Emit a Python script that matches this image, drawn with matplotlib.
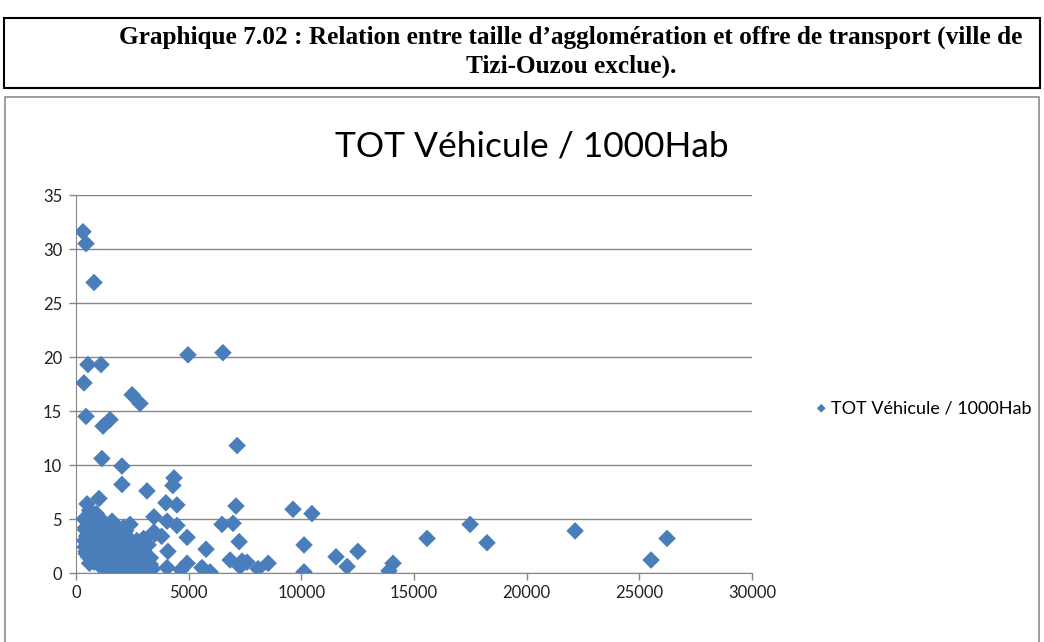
import matplotlib.pyplot as plt
from matplotlib.patches import Rectangle

# Population of the agglomeration vs. total vehicles per 1000 inhabitants
population = [
    311, 444, 800, 530, 1110, 4970, 6520, 355, 444, 2490, 2840, 1200, 1510,
    1150, 2040, 7150, 2040, 3150, 4350, 4300, 490, 1020, 3990, 4480, 7100,
    3460, 4040, 4480, 6480, 6970, 4930, 7240, 4080, 5770, 4930, 4660, 4040,
    3280, 5590, 5950, 6840, 7370, 7590, 7280, 8080, 8530, 9630, 10470, 10120,
    10120, 11540, 12030, 12510, 13890, 14070, 15580, 17490, 18240, 22150,
    25520, 26230, 3800, 3460,
    # dense group of small agglomerations
    380, 420, 400, 420, 360, 450, 500, 550, 600, 650, 700, 800, 800, 900,
    1000, 1000, 1100, 1200, 1200, 1300, 1400, 1400, 1500, 1600, 1700, 1700,
    1800, 1900, 2000, 2000, 2100, 2200, 2300, 2300, 2400, 2500, 2500, 2600,
    2700, 2800, 2800, 2900, 3000, 3000, 3100, 3200, 3300, 3400, 3500,
    450, 600, 900, 1300, 1600, 2100, 2600, 3000, 700, 1100, 1800, 2200,
    500, 1500, 2400, 3300, 950, 1250, 1900, 2700,
    480, 650, 850, 1050, 1350, 1550, 1750, 1950, 2150, 2350, 2550, 2750,
    750, 1150, 1450, 1850, 2250, 2650, 3050, 3150, 1650, 2050, 1000, 1400,
]
vehicles_per_1000 = [
    31.6, 30.5, 26.9, 19.3, 19.3, 20.2, 20.4, 17.6, 14.5, 16.5, 15.7, 13.6,
    14.2, 10.6, 9.9, 11.8, 8.2, 7.6, 8.8, 8.1, 6.4, 6.9, 6.5, 6.3, 6.2, 5.2,
    4.8, 4.4, 4.5, 4.6, 3.3, 2.9, 2.0, 2.2, 0.9, 0.3, 0.5, 0.3, 0.5, 0.1,
    1.2, 1.1, 1.0, 0.6, 0.4, 0.9, 5.9, 5.5, 2.6, 0.1, 1.5, 0.6, 2.0, 0.2,
    0.9, 3.2, 4.5, 2.8, 3.9, 1.2, 3.2, 3.4, 3.8,
    3.0, 4.2, 2.4, 4.0, 5.0, 2.0, 3.5, 1.5, 5.8, 3.0, 4.8, 1.0, 2.8, 5.5,
    0.8, 3.8, 5.0, 2.2, 1.0, 4.5, 0.5, 3.0, 1.8, 4.8, 0.4, 2.5, 3.8, 1.2,
    0.2, 2.8, 4.2, 1.8, 0.6, 3.3, 4.5, 2.2, 0.3, 1.2, 3.0, 0.5, 2.0, 1.5,
    0.2, 3.2, 0.8, 2.6, 1.4, 0.4, 3.6,
    1.8, 0.9, 1.8, 0.9, 2.0, 1.0, 2.4, 1.6, 3.6, 2.6, 0.6, 3.9,
    2.6, 3.4, 1.6, 0.8, 4.4, 3.9, 3.2, 1.8,
    3.4, 4.4, 1.4, 2.0, 3.4, 0.7, 1.0, 4.0, 3.0, 1.5, 1.6, 2.4,
    1.2, 0.6, 2.2, 2.1, 2.6, 0.8, 1.8, 1.1, 0.8, 0.6, 2.8, 4.0,
]

series_name = 'TOT Véhicule / 1000Hab'
x_ticks = [0, 5000, 10000, 15000, 20000, 25000, 30000]
y_ticks = [0, 5, 10, 15, 20, 25, 30, 35]

W, H = 1044, 642
fig = plt.figure(figsize=(W / 100, H / 100), dpi=100)


def fx(px):
    return px / W


def fy(py):
    return 1 - py / H


# caption box
fig.add_artist(Rectangle((fx(4), fy(88)), fx(1036), 70 / H, transform=fig.transFigure,
                         fill=False, edgecolor='black', linewidth=1.5))
fig.text(fx(571), fy(37), "Graphique 7.02 : Relation entre taille d\u2019agglomération et offre de transport (ville de",
         ha='center', va='center', family='Liberation Serif', weight='bold', fontsize=18.2)
fig.text(fx(571), fy(66), "Tizi-Ouzou exclue).",
         ha='center', va='center', family='Liberation Serif', weight='bold', fontsize=18.2)

# chart area border
fig.add_artist(Rectangle((fx(5), fy(660)), fx(1034), 563 / H, transform=fig.transFigure,
                         fill=False, edgecolor='#8c8c8c', linewidth=1.2))

fig.text(fx(532), fy(147), series_name, ha='center', va='center',
         family='Lato', fontsize=25.5, color='black')

ax = fig.add_axes([fx(76), fy(573), fx(676), 378 / H])
ax.scatter(population, vehicles_per_1000, marker='D', s=80, color='#4A7EBB',
           edgecolors='none', zorder=3, label=series_name)

ax.set_xlim(0, 30000)
ax.set_ylim(0, 35)
ax.set_xticks(x_ticks)
ax.set_yticks(y_ticks)
ax.grid(axis='y', color='#868686', linewidth=1)
ax.set_axisbelow(True)
for side in ['top', 'right']:
    ax.spines[side].set_visible(False)
for side in ['left', 'bottom']:
    ax.spines[side].set_color('#868686')
ax.tick_params(axis='both', colors='#868686', labelcolor='#222222', labelsize=12,
               length=5, width=1)
ax.tick_params(axis='y', pad=5)
for lbl in ax.get_xticklabels() + ax.get_yticklabels():
    lbl.set_family('Lato')

leg = ax.legend(loc='center left', bbox_to_anchor=(fx(796), fy(408)),
                bbox_transform=fig.transFigure, frameon=False, markerscale=0.5,
                handletextpad=0.05, handlelength=1.0, prop={'family': 'Lato', 'size': 13})

fig.savefig('out.png', dpi=100)
